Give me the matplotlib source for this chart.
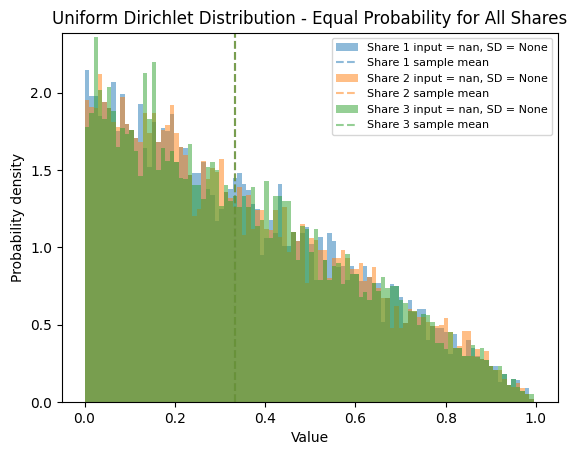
import numpy as np
import matplotlib
matplotlib.use("Agg")
import matplotlib.pyplot as plt

# Histogram bar heights (probability density), 100 bins from 0 to ~0.995
share1 = [2.15,1.98,1.98,1.85,1.94,1.90,2.07,1.75,1.99,1.80,1.76,1.71,1.93,1.64,1.52,1.81,1.68,1.77,1.75,1.86,
          1.55,1.65,1.64,1.47,1.48,1.48,1.55,1.38,1.34,1.17,1.25,1.36,1.38,1.45,1.48,1.41,1.37,1.28,1.25,0.95,
          1.06,1.18,1.09,1.41,1.01,1.01,1.10,1.04,1.09,1.13,1.02,0.79,1.07,0.92,1.09,1.04,0.87,0.88,0.79,0.88,
          0.83,0.78,0.88,0.81,0.77,0.77,0.52,0.67,0.76,0.75,0.68,0.51,0.66,0.58,0.60,0.60,0.40,0.49,0.48,0.48,
          0.45,0.31,0.44,0.35,0.30,0.40,0.35,0.30,0.28,0.27,0.23,0.23,0.13,0.18,0.11,0.15,0.14,0.07,0.09,0.02]
share2 = [1.95,1.91,1.90,2.12,1.94,1.90,1.81,1.78,1.97,1.80,1.76,1.71,1.68,1.87,1.74,1.87,1.68,1.76,1.79,1.92,
          1.74,1.65,1.60,1.47,1.20,1.25,1.56,1.44,1.51,1.49,1.57,1.36,1.32,1.26,1.39,1.08,1.34,1.12,1.24,1.24,
          1.12,1.11,1.24,1.07,1.26,0.97,1.10,1.04,1.15,0.77,1.06,1.05,0.98,0.98,0.80,0.93,0.93,0.98,0.93,0.86,
          0.86,0.90,0.78,0.81,0.87,0.74,0.67,0.67,0.48,0.62,0.48,0.51,0.60,0.59,0.55,0.55,0.52,0.49,0.49,0.50,
          0.54,0.45,0.35,0.36,0.46,0.46,0.30,0.34,0.28,0.33,0.23,0.21,0.21,0.15,0.11,0.10,0.12,0.09,0.05,0.02]
share3 = [1.78,1.87,2.36,2.02,1.83,2.04,1.88,1.65,1.77,1.73,1.76,1.62,1.46,2.13,1.83,2.20,1.50,1.64,1.56,1.62,
          1.55,1.45,1.44,1.67,1.40,1.40,1.31,1.52,1.55,1.50,1.27,1.40,1.30,1.33,1.26,1.33,1.26,1.39,1.14,1.18,
          1.43,1.06,1.33,1.33,1.30,1.30,1.10,0.92,1.14,1.12,0.97,1.12,0.79,0.92,0.79,0.88,0.90,0.76,0.96,0.83,
          0.83,0.68,0.71,0.66,0.77,0.72,0.81,0.74,0.75,0.75,0.66,0.64,0.59,0.59,0.50,0.57,0.56,0.52,0.38,0.38,
          0.34,0.45,0.35,0.35,0.30,0.30,0.37,0.29,0.35,0.27,0.23,0.21,0.23,0.18,0.11,0.15,0.10,0.07,0.05,0.05]
means = [0.3332, 0.3334, 0.3334]
labels = ["Share 1", "Share 2", "Share 3"]
colors = ["#1f77b4", "#ff7f0e", "#2ca02c"]

edges = np.linspace(0.0, 0.995, 101)
centers = 0.5 * (edges[:-1] + edges[1:])

fig = plt.figure(figsize=(5.76, 4.55), dpi=100)
ax = fig.add_axes([62/576, 1 - 402/455, (558 - 62)/576, (402 - 32.7)/455])

for vals, lab, c, m in zip([share1, share2, share3], labels, colors, means):
    ax.hist(centers, bins=edges, weights=vals, alpha=0.5, color=c,
            label=f"{lab} input = nan, SD = None")
    ax.axvline(m, color=c, linestyle="--", alpha=0.5, label=f"{lab} sample mean")

ax.set_xlim(-0.0499, 1.0489)
ax.set_ylim(0, 2.388)
ax.set_title("Uniform Dirichlet Distribution - Equal Probability for All Shares")
ax.set_xlabel("Value")
ax.set_ylabel("Probability density")
ax.legend(loc="upper right", fontsize=8)
fig.savefig("out.png", dpi=100)
